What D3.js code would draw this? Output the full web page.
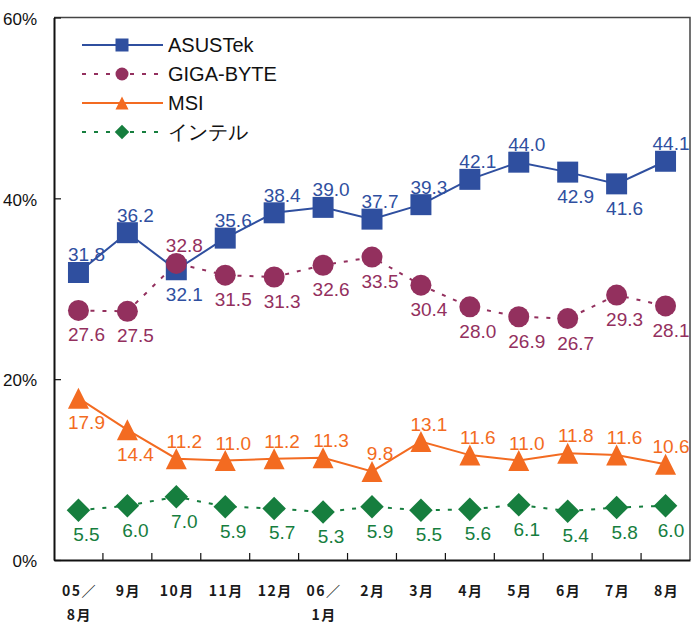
<!DOCTYPE html>
<html>
<head>
<meta charset="utf-8">
<script src="https://cdn.jsdelivr.net/npm/d3@7"></script>
<style>
  html, body { margin: 0; padding: 0; background: #fff; }
  svg { display: block; }
</style>
</head>
<body>
<svg id="chart" width="693" height="623"></svg>
<script>
// Months on the x axis (first line / second line)
const categories = ["05／\n8月", "9月", "10月", "11月", "12月", "06／\n1月", "2月", "3月", "4月", "5月", "6月", "7月", "8月"];

// Share per vendor, %
const asustek = [31.8, 36.2, 32.1, 35.6, 38.4, 39.0, 37.7, 39.3, 42.1, 44.0, 42.9, 41.6, 44.1];
const gigabyte = [27.6, 27.5, 32.8, 31.5, 31.3, 32.6, 33.5, 30.4, 28.0, 26.9, 26.7, 29.3, 28.1];
const msi = [17.9, 14.4, 11.2, 11.0, 11.2, 11.3, 9.8, 13.1, 11.6, 11.0, 11.8, 11.6, 10.6];
const intel = [5.5, 6.0, 7.0, 5.9, 5.7, 5.3, 5.9, 5.5, 5.6, 6.1, 5.4, 5.8, 6.0];

const seriesNames = ["ASUSTek", "GIGA-BYTE", "MSI", "インテル"];
const yTicks = [0, 20, 40, 60];

// Which side of the marker each value label sits on (a = above, b = below)
const asustekSide = ["a","a","b","a","a","a","a","a","a","a","b","b","a"];
const gigabyteSide = ["b","b","a","b","b","b","b","b","b","b","b","b","b"];
const msiSide = ["b","b","a","a","a","a","a","a","a","a","a","a","a"];
const intelSide = ["b","b","b","b","b","b","b","b","b","b","b","b","b"];

const series = [
  { name: seriesNames[0], values: asustek, side: asustekSide, color: "#2f4f9f", dash: null, shape: "square" },
  { name: seriesNames[1], values: gigabyte, side: gigabyteSide, color: "#93305e", dash: "4,8", shape: "circle" },
  { name: seriesNames[2], values: msi, side: msiSide, color: "#f36b21", dash: null, shape: "triangle" },
  { name: seriesNames[3], values: intel, side: intelSide, color: "#167e3e", dash: "4,8", shape: "diamond" }
];

const svg = d3.select("#chart");
const plot = { left: 54, right: 690, top: 17.5, bottom: 560 };
const latin = "Liberation Sans, Arial, sans-serif";

const x = d3.scaleBand().domain(categories).range([plot.left, plot.right]).padding(0);
const cx = c => x(c) + x.bandwidth() / 2;
const y = d3.scaleLinear().domain([0, 60]).range([plot.bottom, plot.top]);

// frame: top and right edges
svg.append("path")
  .attr("d", `M${plot.left},${plot.top}H${plot.right}V${plot.bottom}`)
  .attr("fill", "none").attr("stroke", "#444").attr("stroke-width", 1.5);

// y axis with inward ticks
const yAxis = svg.append("g")
  .attr("transform", `translate(${plot.left},0)`)
  .call(d3.axisLeft(y).tickValues(yTicks).tickSize(-7).tickSizeOuter(0).tickPadding(17).tickFormat(d => d + "%"));
yAxis.select(".domain").attr("stroke", "#111").attr("stroke-width", 2);
yAxis.selectAll(".tick line").attr("stroke", "#111").attr("stroke-width", 1.2);
yAxis.selectAll(".tick text")
  .attr("font-family", latin)
  .attr("font-size", 17).attr("fill", "#111").attr("dy", "0.4em");

// x axis: labels at band centres, ticks at band boundaries
const xAxis = svg.append("g")
  .attr("transform", `translate(0,${plot.bottom})`)
  .call(d3.axisBottom(x).tickSize(0).tickSizeOuter(0).tickFormat(""));
xAxis.select(".domain").attr("stroke", "#111").attr("stroke-width", 2.2);

svg.append("g").selectAll("line")
  .data(categories.slice(1))
  .join("line")
  .attr("x1", d => x(d)).attr("x2", d => x(d))
  .attr("y1", plot.bottom).attr("y2", plot.bottom - 7)
  .attr("stroke", "#111").attr("stroke-width", 1.2);

const xl = svg.append("g").selectAll("text")
  .data(categories)
  .join("text")
  .attr("x", d => cx(d) + 1)
  .attr("y", 596)
  .attr("text-anchor", "middle")
  .attr("font-family", "Noto Sans CJK JP, sans-serif")
  .attr("font-size", 14).attr("font-weight", 700)
  .attr("letter-spacing", 1.5)
  .attr("fill", "#1a1a1a");
xl.each(function(d) {
  const lines = d.split("\n");
  d3.select(this).selectAll("tspan")
    .data(lines)
    .join("tspan")
    .attr("x", cx(d) + 1)
    .attr("dy", (l, i) => i === 0 ? 0 : 24)
    .text(l => l);
});

// marker shapes
function markerPath(shape, s) {
  const h = s / 2;
  switch (shape) {
    case "square": return `M${-h},${-h}H${h}V${h}H${-h}Z`;
    case "circle": return `M${-h},0A${h},${h} 0 1,0 ${h},0A${h},${h} 0 1,0 ${-h},0Z`;
    case "triangle": return `M0,${-h}L${h},${h}L${-h},${h}Z`;
    case "diamond": { const d = h * 1.12; return `M0,${-d}L${d},0L0,${d}L${-d},0Z`; }
  }
}

const line = d3.line().x((d, i) => cx(categories[i])).y(d => y(d));

series.forEach(s => {
  const g = svg.append("g");
  g.append("path")
    .datum(s.values)
    .attr("d", line)
    .attr("fill", "none")
    .attr("stroke", s.color)
    .attr("stroke-width", 2)
    .attr("stroke-dasharray", s.dash);
  g.selectAll("path.mk")
    .data(s.values)
    .join("path")
    .attr("class", "mk")
    .attr("transform", (d, i) => `translate(${cx(categories[i])},${y(d)})`)
    .attr("d", markerPath(s.shape, 21))
    .attr("fill", s.color);
  g.selectAll("text")
    .data(s.values)
    .join("text")
    .attr("x", (d, i) => Math.min(cx(categories[i]) + 8, 671))
    .attr("y", (d, i) => y(d) + (s.side[i] === "a" ? -11 : 31))
    .attr("text-anchor", "middle")
    .attr("font-family", latin)
    .attr("font-size", 19)
    .attr("fill", s.color)
    .text(d => d.toFixed(1));
});

// legend
const legend = svg.append("g");
series.forEach((s, i) => {
  const ly = 45 + i * 29;
  legend.append("line")
    .attr("x1", 82).attr("x2", 163).attr("y1", ly).attr("y2", ly)
    .attr("stroke", s.color).attr("stroke-width", 2)
    .attr("stroke-dasharray", s.dash);
  legend.append("path")
    .attr("transform", `translate(122,${ly})`)
    .attr("d", markerPath(s.shape, 13))
    .attr("fill", s.color);
  legend.append("text")
    .attr("x", 168).attr("y", ly + 7)
    .attr("font-family", latin)
    .attr("font-size", 20)
    .attr("fill", "#111")
    .text(s.name);
});
</script>
</body>
</html>
